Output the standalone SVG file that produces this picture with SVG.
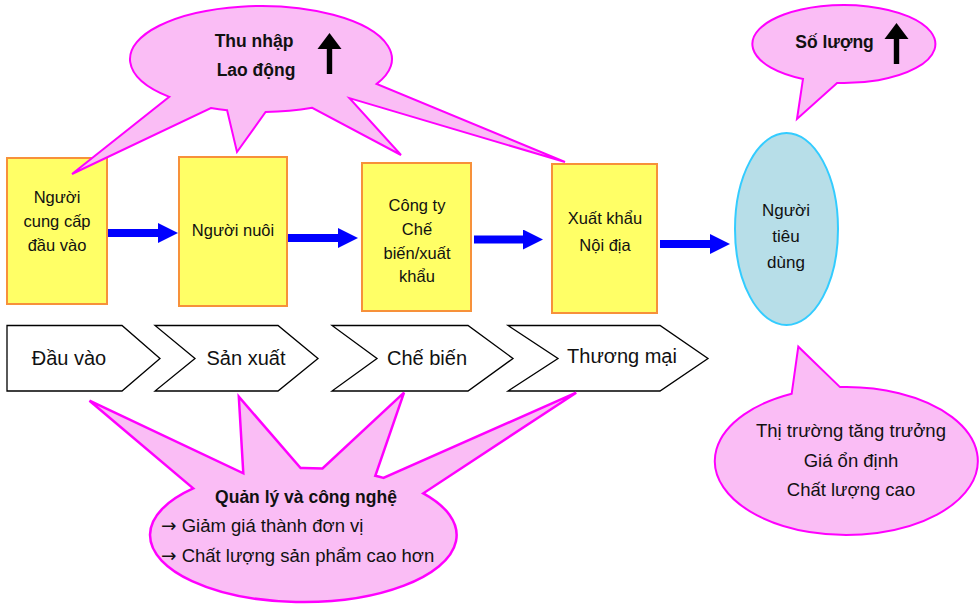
<svg xmlns="http://www.w3.org/2000/svg" width="979" height="608" viewBox="0 0 979 608">
  <style>
    text { font-family: "Liberation Sans", Arial, sans-serif; fill: #111; text-anchor: middle; }
    .callout { fill: #FABDF5; stroke: #FF00FF; stroke-width: 2; stroke-linejoin: miter; }
    .box { fill: #FFFF66; stroke: #F7913A; stroke-width: 2; }
    .consumer { fill: #B7DEE8; stroke: #33CCFF; stroke-width: 2; }
    .chevron { fill: #FFFFFF; stroke: #000; stroke-width: 1.3; stroke-linejoin: miter; }
    .flow { stroke: #0000FF; stroke-width: 8; fill: none; marker-end: url(#blueHead); }
    .t16 { font-size: 16.5px; }
    .t17 { font-size: 17px; }
    .t20 { font-size: 20px; }
    .t18 { font-size: 18.5px; }
    .bold { font-weight: bold; font-size: 17.5px; }
    .left { text-anchor: start; }
    .glyph { font-family: "DejaVu Sans", sans-serif; }
  </style>
  <defs>
    <marker id="blueHead" markerUnits="userSpaceOnUse" markerWidth="20" markerHeight="20" viewBox="0 0 20 20" refX="0" refY="10" orient="auto">
      <path d="M0,0 L20,10 L0,20 Z" fill="#0000FF"/>
    </marker>
    <!-- black "increase" arrow, tip at origin -->
    <path id="upArrow" d="M0,0 L12,16 L2.7,16 L2.7,41 L-2.7,41 L-2.7,16 L-12,16 Z" fill="#000"/>
  </defs>

  <!-- value chain actors -->
  <g id="node-input-supplier">
    <rect class="box" x="7" y="158" width="100" height="146"/>
    <text class="t16" x="57" y="203">Người</text>
    <text class="t16" x="57" y="227">cung cấp</text>
    <text class="t16" x="57" y="251">đầu vào</text>
  </g>
  <g id="node-farmer">
    <rect class="box" x="179" y="157" width="108" height="149"/>
    <text class="t16" x="233" y="236">Người nuôi</text>
  </g>
  <g id="node-processor">
    <rect class="box" x="362" y="163" width="109" height="148"/>
    <text class="t16" x="417" y="211">Công ty</text>
    <text class="t16" x="417" y="235">Chế</text>
    <text class="t16" x="417" y="259">biến/xuất</text>
    <text class="t16" x="417" y="282">khẩu</text>
  </g>
  <g id="node-trade">
    <rect class="box" x="552" y="164" width="105" height="149"/>
    <text class="t16" x="605" y="224">Xuất khẩu</text>
    <text class="t16" x="605" y="251">Nội địa</text>
  </g>
  <g id="node-consumer">
    <ellipse class="consumer" cx="786.5" cy="229" rx="51.5" ry="96"/>
    <text class="t17" x="786" y="216">Người</text>
    <text class="t17" x="786" y="242">tiêu</text>
    <text class="t17" x="786" y="268">dùng</text>
  </g>

  <!-- stage chevrons -->
  <g id="node-stage-input">
    <path class="chevron" d="M7,325.5 L122,325.5 L160,358.5 L122,391 L7,391 Z"/>
    <text class="t20" x="69" y="365">Đầu vào</text>
  </g>
  <g id="node-stage-production">
    <path class="chevron" d="M155,325.5 L278,325.5 L318,358.5 L278,391 L155,391 L195,358.5 Z"/>
    <text class="t20" x="246" y="365">Sản xuất</text>
  </g>
  <g id="node-stage-processing">
    <path class="chevron" d="M332,325.5 L468,325.5 L513,358.5 L468,391 L332,391 L377,358.5 Z"/>
    <text class="t20" x="427" y="365">Chế biến</text>
  </g>
  <g id="node-stage-trade">
    <path class="chevron" d="M508,325.5 L660,325.5 L708,358.5 L660,391 L508,391 L558,358.5 Z"/>
    <text class="t20" x="622" y="363">Thương mại</text>
  </g>

  <!-- flow of product along the chain -->
  <g id="connectors">
    <line class="flow" x1="108" y1="233" x2="158" y2="233"/>
    <line class="flow" x1="288" y1="238" x2="338" y2="238"/>
    <line class="flow" x1="474" y1="239.5" x2="523" y2="239.5"/>
    <line class="flow" x1="660" y1="244" x2="710" y2="244"/>
  </g>

  <!-- income / labour callout -->
  <g id="node-income-callout">
    <path class="callout" d="M376.7,83.9 A131,53 0 1 0 169.3,96.9 L72,174 L210.9,108 A131,53 0 0 0 227.1,110.2 L237,152 L265.6,112 A131,53 0 0 0 312.2,107.8 L401,155 L349.5,98.1 L565,162 Z"/>
    <text class="bold" x="254" y="47">Thu nhập</text>
    <text class="bold" x="256" y="76">Lao động</text>
    <use href="#upArrow" x="329.5" y="33"/>
  </g>

  <!-- quantity callout -->
  <g id="node-quantity-callout">
    <path class="callout" d="M837.1,82.9 A91.5,39 0 1 0 803,78.9 L797,119 Z"/>
    <text class="bold" x="834.5" y="48">Số lượng</text>
    <use href="#upArrow" x="896.5" y="23"/>
  </g>

  <!-- management and technology callout -->
  <g id="node-management-callout">
    <path class="callout" style="stroke-width:2.5" d="M423.3,493.3 A153.3,67 0 1 1 193.2,488.4 L89.5,400.7 L243.3,473.3 L238.8,396.7 L300.6,468 A153.3,67 0 0 1 322.5,468.5 L404,392.7 L375.3,475.8 A153.3,67 0 0 1 383.4,477.9 L576.2,392.7 Z"/>
    <text class="bold" x="306" y="503">Quản lý và công nghệ</text>
    <text class="t18 left" x="161" y="532"><tspan class="glyph">→</tspan> Giảm giá thành đơn vị</text>
    <text class="t18 left" x="161" y="562"><tspan class="glyph">→</tspan> Chất lượng sản phẩm cao hơn</text>
  </g>

  <!-- market callout -->
  <g id="node-market-callout">
    <path class="callout" d="M840,387.1 A131.5,74 0 1 1 791.7,393.7 L798.3,346.7 Z"/>
    <text class="t18" x="851" y="437">Thị trường tăng trưởng</text>
    <text class="t18" x="851" y="466.5">Giá ổn định</text>
    <text class="t18" x="851" y="496">Chất lượng cao</text>
  </g>
</svg>
